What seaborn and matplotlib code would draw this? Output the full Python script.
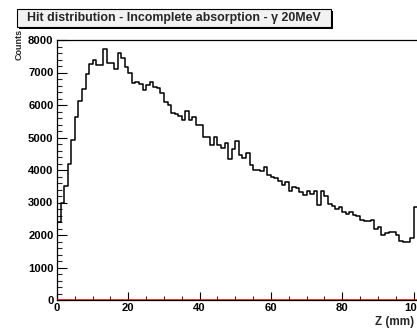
import numpy as np
import pandas as pd
import matplotlib
matplotlib.use("Agg")
import matplotlib.pyplot as plt
import seaborn as sns
from matplotlib.patches import Rectangle
from matplotlib.ticker import MultipleLocator

# ---- data ----
bin_width_mm = 1
z_range_mm = (0, 101)
counts = [
    2400, 2980, 3500, 4180, 4920, 5640, 6130, 6480, 6940, 7250,
    7380, 7220, 7220, 7710, 7300, 7280, 7120, 7610, 7440, 7160,
    6970, 6670, 6720, 6640, 6460, 6615, 6720, 6560, 6510, 6380,
    6100, 6000, 5760, 5720, 5660, 5540, 5820, 5540, 5640, 5390,
    5370, 5010, 5010, 4770, 5010, 4770, 4670, 4820, 4340, 4660,
    4900, 4460, 4360, 4530, 4160, 4000, 3990, 3970, 4100, 3850,
    3800, 3760, 3660, 3540, 3620, 3360, 3470, 3440, 3330, 3240,
    3360, 3270, 3360, 2910, 3360, 3210, 2960, 2880, 2800, 2850,
    2700, 2640, 2720, 2630, 2570, 2450, 2420, 2440, 2460, 2190,
    2250, 2000, 2060, 2100, 2100, 2000, 1820, 1770, 1770, 1900,
    2870,
]
x_ticks = [0, 20, 40, 60, 80, 100]
y_ticks = [0, 1000, 2000, 3000, 4000, 5000, 6000, 7000, 8000]
title = "Hit distribution - Incomplete absorption - \u03b3 20MeV"
x_label = "Z (mm)"
y_label = "Counts"

centres = np.arange(len(counts)) * bin_width_mm + 0.5 * bin_width_mm
df = pd.DataFrame({"z": centres, "counts": np.array(counts, dtype=float)})

sns.set_theme(style="ticks")
plt.rcParams["font.family"] = ["Liberation Sans", "DejaVu Sans"]
plt.rcParams["font.weight"] = "bold"

W, H = 417, 329
fig = plt.figure(figsize=(W / 100, H / 100), dpi=100)
fig.patch.set_facecolor("white")

x0_px, y_top_px, y_bot_px = 57, 40, 300
px_per_mm = 3.565
xmax = 105
ax = fig.add_axes([x0_px / W, (H - y_bot_px) / H,
                   xmax * px_per_mm / W, (y_bot_px - y_top_px) / H])
ax.set_facecolor("white")

# red empty histogram along zero
sns.lineplot(data=pd.DataFrame({"z": [0, xmax], "c": [0, 0]}), x="z", y="c",
             color="#e00000", lw=1.8, ax=ax, zorder=3)

sns.histplot(data=df, x="z", weights="counts", binwidth=bin_width_mm,
             binrange=z_range_mm, element="step", fill=False, color="black",
             linewidth=1.1, ax=ax, zorder=4)

ax.set_xlim(0, xmax)
ax.set_ylim(0, 8000)
ax.set_xticks(x_ticks)
ax.set_yticks(y_ticks)
ax.xaxis.set_minor_locator(MultipleLocator(5))
ax.yaxis.set_minor_locator(MultipleLocator(200))
ax.tick_params(axis="both", which="major", direction="in", width=0.8,
               labelsize=8.1, colors="black")
ax.tick_params(axis="y", which="major", length=7.5, pad=2.5)
ax.tick_params(axis="x", which="major", length=5.5, pad=2.3)
ax.tick_params(axis="y", which="minor", direction="in", length=3.8, width=0.8)
ax.tick_params(axis="x", which="minor", direction="in", length=3.0, width=0.8)
for lab in ax.get_xticklabels() + ax.get_yticklabels():
    lab.set_fontweight("bold")
ax.set_xlabel("")
ax.set_ylabel("")
for s in ["left", "top", "right", "bottom"]:
    ax.spines[s].set_visible(True)
    ax.spines[s].set_linewidth(0.9)
    ax.spines[s].set_color("black")

fig.text(19 / W, 1 - 29 / H, y_label, rotation=90, ha="center", va="top",
         fontsize=6.5, fontweight="bold")
fig.text(375 / W, 1 - 315.5 / H, x_label, ha="left", va="top",
         fontsize=8.4, fontweight="bold")

# title box with shadow (ROOT style)
bx0, by0, bx1, by1 = 17, 9, 331, 27
fig.patches.append(Rectangle(((bx0 + 2) / W, 1 - (by1 + 2) / H),
                             (bx1 - bx0) / W, (by1 - by0) / H,
                             transform=fig.transFigure, facecolor="black",
                             edgecolor="none", zorder=1))
fig.patches.append(Rectangle((bx0 / W, 1 - by1 / H), (bx1 - bx0) / W,
                             (by1 - by0) / H, transform=fig.transFigure,
                             facecolor="#f2f2f2", edgecolor="black",
                             linewidth=0.8, zorder=2))
fig.text(27 / W, 1 - 18.3 / H, title, ha="left", va="center", fontsize=8.9,
         fontweight="bold", zorder=3)

fig.savefig("out.png", dpi=100)
